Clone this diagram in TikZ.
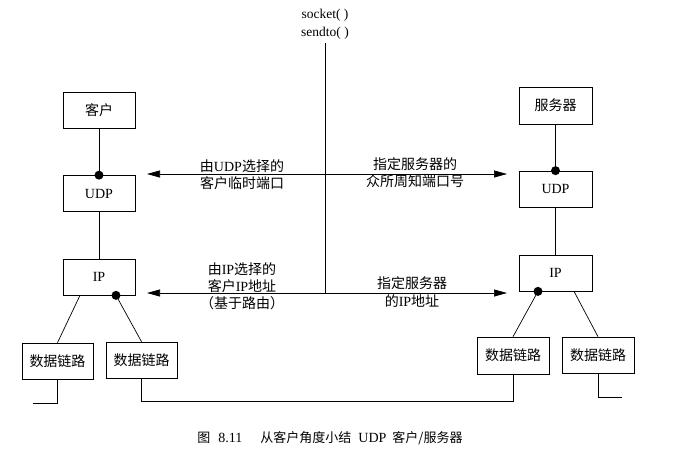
\documentclass[tikz,border=0pt]{standalone}
\usepackage{fontspec}
\setmainfont{Liberation Serif}
\newfontfamily\cjk{Noto Sans CJK SC}
\usetikzlibrary{arrows.meta}
\newcommand{\C}[1]{{\cjk #1}}
\begin{document}
\begin{tikzpicture}[x=1pt,y=-1pt,
  box/.style={draw, line width=0.7pt, minimum width=72pt, minimum height=36pt, inner sep=0pt, font=\fontsize{14}{15}\selectfont},
  lbl/.style={align=center, inner sep=0pt, font=\fontsize{14}{17}\selectfont},
  dot/.style={circle, fill=black, inner sep=0pt, minimum size=9pt},
  ln/.style={line width=0.7pt},
  arr/.style={line width=0.7pt, -{Triangle[length=13pt,width=7pt]}}]
\useasboundingbox (0,0) rectangle (673,451);
% client side
\node[box] (cbox) at (99,110) {\C{客户}};
\node[box] (cudp) at (99,193.5) {UDP};
\node[box] (cip)  at (99,277) {IP};
\node[box, minimum width=71pt] (cdla) at (57.5,361) {\C{数据链路}};
\node[box, minimum width=71pt] (cdlb) at (141.5,360) {\C{数据链路}};
% server side
\node[box, minimum width=73pt, minimum height=37pt] (sbox) at (555.5,105.5) {\C{服务器}};
\node[box, minimum width=73pt] (sudp) at (555.5,189) {UDP};
\node[box, minimum width=73pt] (sip)  at (555.5,273) {IP};
\node[box, minimum width=72pt, minimum height=37pt] (sdla) at (513,355.5) {\C{数据链路}};
\node[box, minimum width=72pt] (sdlb) at (598,355) {\C{数据链路}};
% dots
\node[dot] (cd1) at (cudp.north) {};
\node[dot] (cd2) at ([xshift=17pt]cip.south) {};
\node[dot] (sd1) at (sudp.north) {};
\node[dot] (sd2) at ([xshift=-17.5pt]sip.south) {};
% vertical links
\draw[ln] (cbox.south) -- (cd1.center);
\draw[ln] (cudp.south) -- (cip.north);
\draw[ln] (sbox.south) -- (sd1.center);
\draw[ln] (sudp.south) -- (sip.north);
% IP to data link
\draw[ln] ([xshift=-19pt]cip.south) -- (cdla.north);
\draw[ln] (cd2.center) -- (cdlb.north);
\draw[ln] (sd2.center) -- (sdla.north);
\draw[ln] ([xshift=18.5pt]sip.south) -- (sdlb.north);
% wires
\coordinate (cw) at (33,403);
\coordinate (sw) at (622,397);
\draw[ln] (cdla.south) |- (cw);
\draw[ln] (cdlb.south) -- ++(0,23) -| (sdla.south);
\draw[ln] (sdlb.south) |- (sw);
% central line
\coordinate (ctop) at (325,43);
\coordinate (cmid) at (325,174);
\coordinate (cbot) at (325,293);
\coordinate (tl1) at (147,174);
\coordinate (tr1) at (507,174);
\coordinate (tl2) at (147,293);
\coordinate (tr2) at (507,293);
\draw[ln] (ctop) -- (cbot);
\draw[arr] (cmid) -- (tl1);
\draw[arr] (cmid) -- (tr1);
\draw[arr] (cbot) -- (tl2);
\draw[arr] (cbot) -- (tr2);
% labels
\node[lbl, font=\fontsize{13.5}{18}\selectfont] (calls) at (325,24) {socket(~)\\sendto(~)};
\node[lbl] (l1) at (242,174.5) {\C{由}UDP\C{选择的}\\\C{客户临时端口}};
\node[lbl] (l2) at (415,172.5) {\C{指定服务器的}\\\C{众所周知端口号}};
\node[lbl] (l3) at (242,286) {\C{由}IP\C{选择的}\\\C{客户}IP\C{地址}\\\C{（基于路由）}};
\node[lbl] (l4) at (412,292.5) {\C{指定服务器}\\[1pt]\C{的}IP\C{地址}};
% caption
\node[inner sep=0pt, font=\fontsize{13}{14}\selectfont] (cap) at (330,438) {\C{图}\hspace{8pt}{\fontsize{14}{14}\selectfont 8.11}\hspace{18pt}\C{从客户角度小结}\hspace{7pt}{\fontsize{14}{14}\selectfont UDP}\hspace{6pt}\C{客户/服务器}};
\end{tikzpicture}
\end{document}
